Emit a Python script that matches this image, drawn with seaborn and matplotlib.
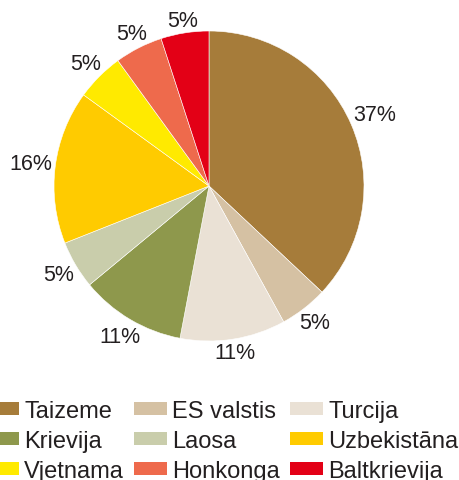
import numpy as np
import matplotlib
matplotlib.use("Agg")
import matplotlib.pyplot as plt
from matplotlib.patches import Patch
import seaborn as sns

# --- Data ---
countries = ["Taizeme", "ES valstis", "Turcija", "Krievija", "Laosa",
             "Uzbekistāna", "Vjetnama", "Honkonga", "Baltkrievija"]
shares = [37, 5, 11, 11, 5, 16, 5, 5, 5]
colors = ["#A67C3A", "#D5C1A3", "#EAE1D5", "#8E984C", "#C9CDAB",
          "#FFCB00", "#FFEA00", "#EE6A4C", "#E30016"]

sns.set_style("white")
plt.rcParams['font.family'] = ['Liberation Sans', 'DejaVu Sans']

fig = plt.figure(figsize=(4.59, 4.81), dpi=100)
W, H = 459, 481
cx, cy, r = 209, 187, 155
ax = fig.add_axes([(cx - r) / W, (H - cy - r) / H, 2 * r / W, 2 * r / H])

pct_fs = 15.5
wedges, _, autotexts = ax.pie(
    shares, colors=colors, startangle=90, counterclock=False, radius=1,
    autopct='%.0f%%', pctdistance=1.15,
    textprops={'fontsize': pct_fs, 'color': '#231F20'},
    wedgeprops={'linewidth': 0.4, 'edgecolor': 'white'})
ax.set_xlim(-1, 1)
ax.set_ylim(-1, 1)
ax.set_aspect('equal')
ax.axis('off')

# push each percentage out so its box sits a small gap off the rim
fig.canvas.draw()
renderer = fig.canvas.get_renderer()
gap = 2.5 / r
half_h = 0.36 * pct_fs * 100 / 72 / r
for w, t in zip(wedges, autotexts):
    theta = np.deg2rad((w.theta1 + w.theta2) / 2)
    half_w = t.get_window_extent(renderer).width / 2 / r
    d = 1 + gap + half_w * abs(np.cos(theta)) + half_h * abs(np.sin(theta))
    t.set_position((d * np.cos(theta), d * np.sin(theta)))

# legend, column-major order so rows read like the original
order = [0, 3, 6, 1, 4, 7, 2, 5, 8]
handles = [Patch(facecolor=colors[i], edgecolor='none', label=countries[i]) for i in order]
fig.legend(handles=handles, ncol=3, loc='upper left',
           bbox_to_anchor=(-14 / W, 1 - 401 / H), frameon=False,
           fontsize=17, handlelength=1.4, handleheight=0.47,
           handletextpad=0.22, columnspacing=0.42, labelspacing=0.33,
           borderpad=0, borderaxespad=0, labelcolor='#231F20')

fig.savefig("out.png", dpi=100)
